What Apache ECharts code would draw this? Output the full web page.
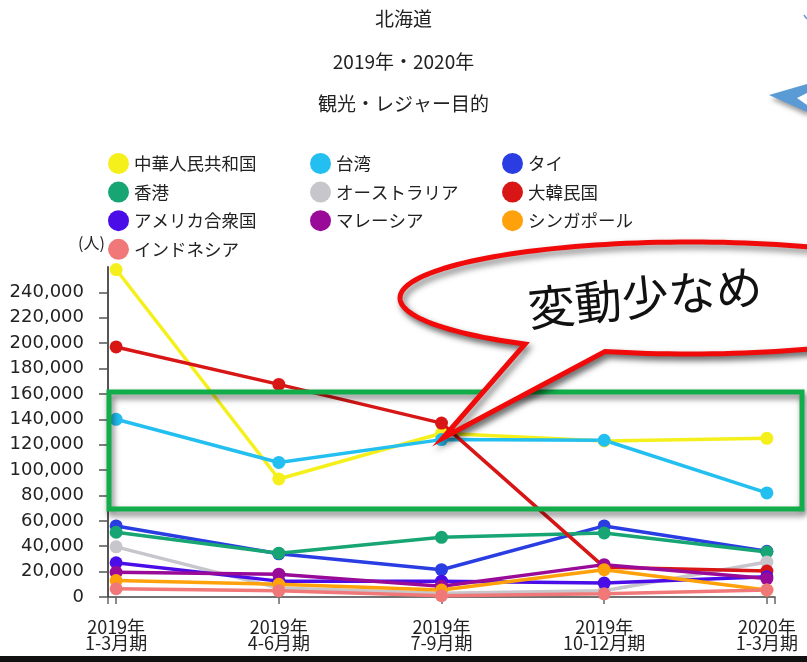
<!DOCTYPE html>
<html><head><meta charset="utf-8">
<script src="https://cdn.jsdelivr.net/npm/echarts@6/dist/echarts.min.js"></script>
<style>html,body{margin:0;padding:0;background:#fff}#c{width:807px;height:662px}</style>
</head><body><div id="c"></div>
<script>
const categories = ['2019年\n1-3月期','2019年\n4-6月期','2019年\n7-9月期','2019年\n10-12月期','2020年\n1-3月期'];
const yTicks = [0,20000,40000,60000,80000,100000,120000,140000,160000,180000,200000,220000,240000];
const seriesNames = ['中華人民共和国','台湾','タイ','香港','オーストラリア','大韓民国','アメリカ合衆国','マレーシア','シンガポール','インドネシア'];
const china     = [258000, 93000, 129000, 123000, 125000];
const taiwan    = [140000, 106000, 124000, 123500, 82000];
const thai      = [56000, 34000, 21500, 56000, 36000];
const hongkong  = [51000, 34500, 47000, 50500, 35500];
const australia = [39500, 7000, 3000, 5000, 27500];
const korea     = [197000, 167500, 137000, 23500, 20500];
const usa       = [27000, 12500, 12500, 11000, 16000];
const malaysia  = [19500, 18000, 8500, 25500, 14500];
const singapore = [13000, 10000, 5500, 21500, 5500];
const indonesia = [6500, 5000, 1000, 2500, 5500];
const seriesValues = [china, taiwan, thai, hongkong, australia, korea, usa, malaysia, singapore, indonesia];
const colors = ['#f5f01c','#22bff0','#2a3de2','#17a673','#c6c6cc','#d81616','#4a0de8','#990a99','#ffa10a','#f07878'];

const JP = '"Noto Sans CJK JP", sans-serif';
const chart = echarts.init(document.getElementById('c'));

// speech bubble outline (annotation shape)
const cx = 690, cy = 298, rx = 290, ry = 56;
const th2 = Math.atan2(0.956, -85/290), th1 = Math.atan2(0.822, -165/290) - 2*Math.PI;
const bubble = [[443, 438]];
const N = 160;
for (let k = 0; k <= N; k++) {
  const t = th2 + (th1 - th2) * k / N;
  bubble.push([cx + rx*Math.cos(t), cy + ry*Math.sin(t)]);
}

const legendBase = {
  orient:'vertical', icon:'circle', itemWidth:21, itemHeight:21, itemGap:7.6,
  textStyle:{fontSize:17.5, color:'#222', fontFamily:JP}, top:148
};
const titleStyle = {fontSize:19, fontWeight:'normal', color:'#222', fontFamily:JP};

chart.setOption({
  animation:false,
  backgroundColor:'#fff',
  title:[
    {text:'北海道', left:'center', top:4, textStyle:titleStyle},
    {text:'2019年・2020年', left:'center', top:47, textStyle:titleStyle},
    {text:'観光・レジャー目的', left:'center', top:89, textStyle:titleStyle}
  ],
  legend:[
    Object.assign({}, legendBase, {left:103, data:['中華人民共和国','香港','アメリカ合衆国','インドネシア']}),
    Object.assign({}, legendBase, {left:305, data:['台湾','オーストラリア','マレーシア']}),
    Object.assign({}, legendBase, {left:497, data:['タイ','大韓民国','シンガポール']})
  ],
  grid:{left:108, right:32, top:267, bottom:65},
  xAxis:{
    type:'value', min:-0.05, max:4.05,
    axisLine:{onZero:false, lineStyle:{color:'#444', width:1.5}},
    axisTick:{customValues:[-0.05,0,1,2,3,4,4.05], length:7, lineStyle:{color:'#666', width:1.5}},
    axisLabel:{customValues:[0,1,2,3,4], formatter:v=>categories[Math.round(v)], fontSize:18, lineHeight:16, color:'#222', margin:22, fontFamily:JP},
    splitLine:{show:false}
  },
  yAxis:{
    type:'value', min:0, max:260000, interval:20000,
    axisLine:{show:true, onZero:false, lineStyle:{color:'#555', width:2}},
    axisTick:{show:true, length:9, lineStyle:{color:'#555', width:1.5}},
    axisLabel:{showMaxLabel:false, formatter:v=>yTicks.includes(v)?v.toLocaleString('en-US'):'', fontSize:18, color:'#222', margin:24, fontFamily:'"DejaVu Sans"'},
    splitLine:{show:false}
  },
  series: seriesNames.map((n,i)=>({
    name:n, type:'line', data: seriesValues[i].map((v,j)=>[j,v]),
    symbol:'circle', symbolSize:13, showSymbol:true,
    lineStyle:{width:3.5, color:colors[i]}, itemStyle:{color:colors[i]}
  })),
  graphic:[
    {type:'text', x:78, y:235, style:{text:'(人)', fontSize:16, fill:'#222', fontFamily:JP}, z:100},
    {type:'rect', shape:{x:109, y:392, width:693, height:117}, style:{fill:'none', stroke:'#12ad4b', lineWidth:5, shadowBlur:6, shadowColor:'rgba(0,0,0,0.55)', shadowOffsetX:2, shadowOffsetY:4}, z:100},
    {type:'polygon', shape:{points:bubble}, style:{fill:'#fff', stroke:'#f00a0a', lineWidth:5, lineJoin:'miter', shadowBlur:6, shadowColor:'rgba(0,0,0,0.5)', shadowOffsetX:3, shadowOffsetY:4}, z:101},
    {type:'text', x:645, y:297, rotation:0.1, style:{text:'変動少なめ', fontSize:47, fill:'#111', fontFamily:JP, align:'center', verticalAlign:'middle'}, z:102},
    {type:'polygon', shape:{points:[[769,95],[807,84],[807,112]]}, style:{fill:'#5b9bd5', shadowBlur:5, shadowColor:'rgba(0,0,0,0.4)', shadowOffsetX:2, shadowOffsetY:4}, z:100},
    {type:'polygon', shape:{points:[[797,98],[807,93],[807,105]]}, style:{fill:'#fff'}, z:101},
    {type:'polyline', shape:{points:[[804,15],[807,19]]}, style:{stroke:'#5b9bd5', lineWidth:1.5}, z:100},
    {type:'rect', shape:{x:0, y:656, width:807, height:6}, style:{fill:'#111'}, z:100}
  ]
});
</script></body></html>
